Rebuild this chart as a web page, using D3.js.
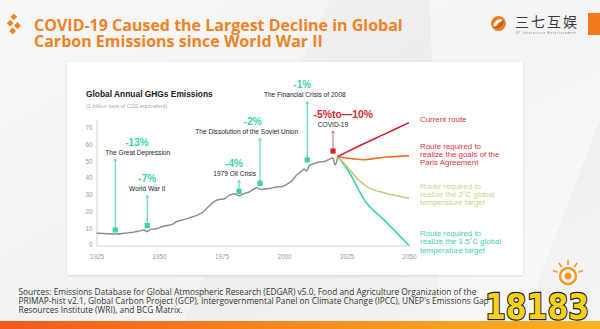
<!DOCTYPE html>
<html><head><meta charset="utf-8">
<script src="https://cdn.jsdelivr.net/npm/d3@7"></script>
<style>html,body{margin:0;padding:0;background:#f2f2f2;}svg{display:block;}</style>
</head><body>
<svg id="c" width="600" height="329"></svg>
<script>
// ---------- DATA ----------
const histYears  = [1925,1928,1930,1933,1936,1938,1940,1942,1944,1945,1947,1949,1951,1953,1955,1957,1960,1963,1966,1968,1970,1972,1974,1976,1978,1980,1982,1984,1986,1988,1989,1991,1993,1995,1997,1999,2001,2003,2005,2007,2008,2009,2010,2012,2014,2016,2018,2019.5,2020.5,2021.5];
const histValues = [7.3,7.2,7.0,6.9,7.3,7.7,8.0,8.6,9.3,8.3,9.8,10.0,11.2,12.0,12.5,14.2,15.5,17.0,18.6,20.5,23.5,26.2,27.5,27.8,30.0,31.0,29.8,31.0,32.0,33.8,34.5,33.5,34.0,34.3,35.0,35.2,36.5,38.5,42.0,44.5,45.8,44.5,47.5,49.0,50.0,50.2,51.5,52.3,48.2,53.3];

const routeNames = ["Current route","Route required to realize the goals of the Paris Agreement","Route required to realize the 2˚C global temperature target","Route required to realize the 1.5˚C global temperature target"];
const routeYears = [
  [2021.5,2030,2040,2050],
  [2021.5,2025,2031.5,2040,2050],
  [2021.5,2025,2030,2034,2040,2050],
  [2021.5,2026,2032.5,2040,2050]
];
const routeValues = [
  [53.3,59.5,66.5,73.5],
  [53.3,52.4,51.3,52.8,53.6],
  [53.3,47.5,39.0,34.5,31.5,28.2],
  [53.3,44.0,26.5,15.3,0]
];

const eventNames   = ["The Great Depression","World War II","1979 Oil Crisis","The Dissolution of the Soviet Union","The Financial Crisis of 2008","COVID-19"];
const eventChanges = ["-13%","-7%","-4%","-2%","-1%","-5%to—10%"];
const eventYears   = [1932.5,1945.3,1982,1990.4,2009.3,2019.6];
const eventMarkers = [9.3,11.9,32.4,37.2,51.2,56.5];
const eventStemTop = [51.6,30.2,39.0,64.2,86.0,68.5];

const xTicks = [1925,1950,1975,2000,2025,2050];
const yTicks = [0,10,20,30,40,50,60,70];

// ---------- LAYOUT ----------
const svg = d3.select("#c");
const defs = svg.append("defs");
const bg = defs.append("linearGradient").attr("id","bg").attr("x1",0).attr("y1",0).attr("x2",1).attr("y2",1);
bg.append("stop").attr("offset",0).attr("stop-color","#f4f4f4");
bg.append("stop").attr("offset",0.5).attr("stop-color","#ececec");
bg.append("stop").attr("offset",1).attr("stop-color","#f5f5f5");
const bar = defs.append("linearGradient").attr("id","bar");
bar.append("stop").attr("offset",0).attr("stop-color","#f0591e");
bar.append("stop").attr("offset",0.5).attr("stop-color","#f58a1f");
bar.append("stop").attr("offset",1).attr("stop-color","#f8b420");
const sh = defs.append("filter").attr("id","sh").attr("x",-0.05).attr("y",-0.05).attr("width",1.1).attr("height",1.1);
sh.append("feDropShadow").attr("dx",0).attr("dy",1).attr("stdDeviation",1.5).attr("flood-color","#000").attr("flood-opacity",0.12);

svg.append("rect").attr("width",600).attr("height",329).attr("fill","url(#bg)");
svg.append("path").attr("d","M0,0 L330,0 L180,329 L0,329 Z").attr("fill","#ffffff").attr("opacity",0.35);
svg.append("path").attr("d","M430,0 L600,0 L600,120 L520,329 L440,329 Z").attr("fill","#ffffff").attr("opacity",0.45);

// header
const orange = "#f28226";
const diam = (cx,cy,s)=>`M${cx},${cy-s} L${cx+s},${cy} L${cx},${cy+s} L${cx-s},${cy} Z`;
[[13.8,16.8],[10.2,23.2],[17.4,25.5],[12.6,31]].forEach(p=>{
  svg.append("path").attr("d",diam(p[0],p[1],3.4)).attr("fill",orange);
});
const title = svg.append("text").attr("x",34).attr("y",30.5).attr("fill",orange)
  .attr("font-family","'Open Sans', sans-serif").attr("font-weight",700).attr("font-size",16);
title.append("tspan").attr("x",34).attr("y",30.5).text("COVID-19 Caused the Largest Decline in Global");
title.append("tspan").attr("x",34).attr("y",47).text("Carbon Emissions since World War II");

// logo
svg.append("circle").attr("cx",498.5).attr("cy",23.5).attr("r",7.5).attr("fill","#ee7d22");
svg.append("path").attr("d","M493,27 C494,19 503,17 504.5,22 C501,20 497,22 496,27 Z").attr("fill","#fff");
svg.append("path").attr("d","M504,20.5 C503,28 495,30.5 492.5,25.5 C496,28 501,26 502,20 Z").attr("fill","#b8561a");
svg.append("text").attr("x",515).attr("y",27).attr("font-family","'Noto Sans CJK SC', sans-serif")
  .attr("font-size",14).attr("fill","#3a3a3a").attr("textLength",62).text("三七互娱");
svg.append("text").attr("x",516).attr("y",34).attr("font-family","'Liberation Sans', sans-serif")
  .attr("font-size",2.6).attr("fill","#555").attr("textLength",60).text("37 Interactive Entertainment");
svg.append("rect").attr("x",588).attr("y",13).attr("width",12).attr("height",22).attr("fill","#f27a1a");

// card
svg.append("rect").attr("x",67).attr("y",62).attr("width",456).attr("height",213).attr("fill","#fff").attr("filter","url(#sh)");

// scales
const x = d3.scaleLinear().domain([1925,2050]).range([96.5,409]);
const y = d3.scaleLinear().domain([0,70]).range([245.5,128.5]);
const F = "'Liberation Sans', Arial, sans-serif";

// chart title
svg.append("text").attr("x",86).attr("y",97).attr("font-family",F).attr("font-weight",700)
  .attr("font-size",8.4).attr("fill","#1a1a1a").text("Global Annual GHGs Emissions");
svg.append("text").attr("x",86).attr("y",108).attr("font-family",F)
  .attr("font-size",5.6).attr("fill","#aaa").text("(1 billion tons of CO2 equivalent)");

// axes
const xAxis = d3.axisBottom(x).tickValues(xTicks).tickFormat(d3.format("d")).tickSize(0).tickPadding(9);
const gx = svg.append("g").attr("transform",`translate(0,${y(0)+0.5})`).call(xAxis);
gx.select(".domain").attr("stroke","#d4d4d4").attr("d",`M${x(1925)},0H${x(2050)+2}`);
gx.selectAll("text").attr("font-family",F).attr("font-size",6.3).attr("fill","#9a9a9a");

const yAxis = d3.axisLeft(y).tickValues(yTicks).tickSize(0).tickPadding(4.5);
const gy = svg.append("g").attr("transform",`translate(${x(1925)+0.5},0)`).call(yAxis);
gy.select(".domain").attr("stroke","#d4d4d4").attr("d",`M0,${y(0)+0.5}V120`);
gy.selectAll("text").attr("font-family",F).attr("font-size",6.3).attr("fill","#9a9a9a").attr("dy","0.2em");

// historical line
const line = d3.line().x((d,i)=>x(d[0])).y(d=>y(d[1])).curve(d3.curveMonotoneX);
const hist = histYears.map((yr,i)=>[yr,histValues[i]]);
svg.append("path").datum(hist).attr("d",line).attr("fill","none").attr("stroke","#8e8e8e").attr("stroke-width",1.5);

// routes
const routeColors = ["#cf1f2b","#f0712a","#c9c97d","#3dd5ae"];
const routeTextColors = ["#e0323c","#e0323c","#d0d28e","#3dd5ae"];
for (let r=routeYears.length-1;r>=0;r--){
  const pts = routeYears[r].map((yr,i)=>[yr,routeValues[r][i]]);
  svg.append("path").datum(pts).attr("d",line).attr("fill","none")
    .attr("stroke",routeColors[r]).attr("stroke-width",1.6);
}
// route labels
const routeLines = [["Current route"],["Route required to","realize the goals of the","Paris Agreement"],["Route required to","realize the 2˚C global","temperature target"],["Route required to","realize the 1.5˚C global","temperature target"]];
const routeLabelTop = [121.5,148.5,188.5,236];
routeLines.forEach((ls,r)=>{
  const t = svg.append("text").attr("font-family",F).attr("font-size",7.9).attr("fill",routeTextColors[r]);
  ls.forEach((s,j)=>t.append("tspan").attr("x",420).attr("y",routeLabelTop[r]+j*8.3).text(s));
});

// events
const teal = "#3fd2a9";
const labelDx = [22.5,0,-4.3,-13.3,-2.5,0];
const pctDx   = [21.7,0,-5,-7.3,-5,10.3];
eventNames.forEach((n,i)=>{
  const isCovid = i===eventNames.length-1;
  const cx = x(eventYears[i]);
  const top = y(eventStemTop[i]);
  const my = y(eventMarkers[i]);
  svg.append("line").attr("x1",cx).attr("x2",cx).attr("y1",top).attr("y2",my)
    .attr("stroke",isCovid?"#c96a72":teal).attr("stroke-width",1);
  svg.append("path").attr("d",`M${cx-1.6},${top+2.4} L${cx},${top} L${cx+1.6},${top+2.4}`)
    .attr("fill","none").attr("stroke",isCovid?"#c96a72":teal).attr("stroke-width",0.8);
  svg.append("rect").attr("x",cx-2.6).attr("y",my-2.6).attr("width",5.2).attr("height",5.2)
    .attr("fill",isCovid?"#d6252e":teal);
  const lb = top-4.5;
  svg.append("text").attr("x",cx+labelDx[i]).attr("y",lb).attr("text-anchor","middle")
    .attr("font-family",F).attr("font-size",6.6).attr("fill","#1e1e1e").text(n);
  svg.append("text").attr("x",cx+pctDx[i]).attr("y",lb-9).attr("text-anchor","middle")
    .attr("font-family",F).attr("font-weight",700).attr("font-size",isCovid?10.4:10)
    .attr("fill",isCovid?"#e02a2e":teal).text(eventChanges[i]);
});

// footer
const ft = svg.append("text").attr("font-family","'Open Sans', sans-serif").attr("font-size",8.35).attr("fill","#333");
["Sources: Emissions Database for Global Atmospheric Research (EDGAR) v5.0, Food and Agriculture Organization of the",
 "PRIMAP-hist v2.1, Global Carbon Project (GCP), Intergovernmental Panel on Climate Change (IPCC), UNEP's Emissions Gap",
 "Resources Institute (WRI), and BCG Matrix."].forEach((s,j)=>{
  ft.append("tspan").attr("x",18.5).attr("y",294.5+j*9.2).text(s);
});
svg.append("rect").attr("x",0).attr("y",321).attr("width",600).attr("height",8).attr("fill","url(#bar)");

// watermark 18183
const wm = svg.append("g");
const sun = wm.append("g").attr("transform","translate(568,276)");
sun.append("circle").attr("r",8).attr("fill","none").attr("stroke","#f39a2a").attr("stroke-width",2.5);
sun.append("circle").attr("r",3.5).attr("fill","#f39a2a");
[-70,-35,0,35,70].forEach(a=>{
  sun.append("line").attr("x1",0).attr("y1",-11).attr("x2",0).attr("y2",-16)
    .attr("transform",`rotate(${a})`).attr("stroke","#f39a2a").attr("stroke-width",1.6);
});
wm.append("text").attr("x",537).attr("y",319).attr("text-anchor","middle")
  .attr("font-family","'DejaVu Sans', sans-serif").attr("font-weight",700).attr("font-size",36)
  .attr("fill","#f7d117").attr("stroke","#1b1b1b").attr("stroke-width",2.4).attr("paint-order","stroke")
  .attr("textLength",104).attr("lengthAdjust","spacingAndGlyphs").text("18183");
</script>
</body></html>
